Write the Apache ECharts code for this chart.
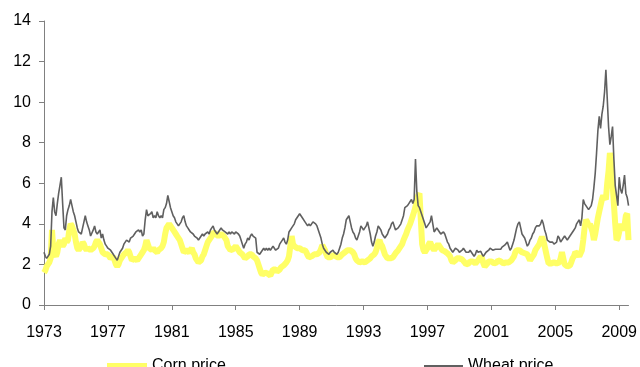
<!DOCTYPE html>
<html><head><meta charset="utf-8">
<script src="https://cdn.jsdelivr.net/npm/echarts@6/dist/echarts.min.js"></script>
<style>html,body{margin:0;padding:0;background:#fff}#c{width:640px;height:367px}</style>
</head><body><div id="c"></div>
<script>
// Monthly series, Jan 1973 .. Aug 2009 (one row per year)
const firstYear = 1973;
const lastYear = 2009;
const lastMonth = 8;
const tickYears = ['1973','1977','1981','1985','1989','1993','1997','2001','2005','2009'];
const yTicks = [0, 2, 4, 6, 8, 10, 12, 14];
const seriesNames = ['Corn price', 'Wheat price'];

const cornPrice = [
 1.6,1.7,1.9,2.0,2.1,2.3,3.7,2.7,2.5,2.4,2.6,3.0, // 1973
 3.2,3.0,2.9,3.0,3.3,3.1,3.2,3.7,4.0,3.9,3.7,3.5, // 1974
 3.1,2.8,2.7,2.8,2.9,3.1,3.0,2.8,2.7,2.8,2.8,2.7, // 1975
 2.7,2.8,2.9,3.1,3.2,3.1,3.0,2.8,2.6,2.55,2.5,2.55, // 1976
 2.5,2.4,2.3,2.35,2.4,2.2,2.0,1.9,2.0,2.2,2.3,2.4, // 1977
 2.5,2.5,2.6,2.7,2.6,2.4,2.2,2.2,2.3,2.3,2.2,2.3, // 1978
 2.4,2.5,2.6,2.7,2.9,3.2,3.0,2.8,2.8,2.7,2.8,2.7, // 1979
 2.7,2.6,2.7,2.7,2.8,2.9,3.1,3.5,3.8,3.9,4.0,3.9, // 1980
 3.8,3.7,3.6,3.5,3.4,3.3,3.2,3.0,2.8,2.6,2.6,2.7, // 1981
 2.7,2.6,2.7,2.8,2.6,2.5,2.3,2.2,2.1,2.05,2.2,2.4, // 1982
 2.5,2.7,2.9,3.1,3.2,3.3,3.4,3.6,3.6,3.5,3.5,3.4, // 1983
 3.4,3.5,3.5,3.4,3.3,3.2,2.9,2.8,2.7,2.7,2.75,2.8, // 1984
 2.9,2.8,2.7,2.6,2.6,2.5,2.4,2.3,2.3,2.4,2.5,2.5, // 1985
 2.5,2.4,2.4,2.3,2.2,2.0,1.8,1.6,1.5,1.55,1.6,1.65, // 1986
 1.55,1.5,1.45,1.6,1.75,1.8,1.75,1.65,1.65,1.75,1.85,1.9, // 1987
 1.95,2.0,2.1,2.2,2.4,2.9,3.4,3.0,2.9,2.85,2.8,2.8, // 1988
 2.8,2.75,2.7,2.7,2.7,2.6,2.45,2.35,2.4,2.4,2.45,2.5, // 1989
 2.5,2.5,2.55,2.6,2.75,2.95,2.9,2.7,2.5,2.35,2.3,2.35, // 1990
 2.4,2.45,2.5,2.45,2.35,2.3,2.35,2.4,2.5,2.55,2.6,2.65, // 1991
 2.7,2.7,2.7,2.65,2.6,2.5,2.3,2.2,2.15,2.1,2.1,2.15, // 1992
 2.1,2.1,2.15,2.2,2.2,2.3,2.4,2.45,2.5,2.6,2.8,3.1, // 1993
 3.2,3.0,2.9,2.7,2.5,2.4,2.3,2.25,2.3,2.3,2.35,2.45, // 1994
 2.55,2.6,2.7,2.8,2.9,3.0,3.2,3.35,3.5,3.7,3.85,4.0, // 1995
 4.2,4.4,4.6,4.85,5.1,5.4,5.5,4.2,3.0,2.7,2.6,2.6, // 1996
 2.8,3.0,3.1,3.1,2.8,2.7,2.8,2.9,3.0,2.9,2.8,2.7, // 1997
 2.7,2.65,2.6,2.55,2.5,2.4,2.2,2.1,2.15,2.2,2.3,2.3, // 1998
 2.3,2.3,2.25,2.2,2.1,2.0,1.95,2.05,2.15,2.2,2.15,2.1, // 1999
 2.05,2.1,2.2,2.3,2.4,2.3,2.05,1.9,1.95,2.05,2.15,2.2, // 2000
 2.15,2.1,2.05,2.05,2.1,2.2,2.2,2.15,2.1,2.05,2.1,2.1, // 2001
 2.05,2.1,2.15,2.2,2.3,2.4,2.6,2.7,2.75,2.7,2.65,2.6, // 2002
 2.6,2.55,2.5,2.5,2.35,2.2,2.3,2.4,2.5,2.7,2.8,2.9, // 2003
 3.0,3.2,3.35,3.2,2.9,2.6,2.3,2.05,2.0,2.05,2.1,2.1, // 2004
 2.1,2.05,2.05,2.1,2.3,2.6,2.3,2.0,1.95,1.9,1.9,1.95, // 2005
 2.1,2.3,2.4,2.6,2.55,2.5,2.4,2.45,2.7,3.2,3.8,4.2, // 2006
 4.1,3.9,4.0,4.0,3.6,3.2,3.5,3.9,4.3,4.6,4.9,5.2, // 2007
 5.4,5.3,5.2,6.0,6.6,7.5,7.0,6.0,5.0,4.0,3.2,3.3, // 2008
 3.6,4.0,3.8,3.7,3.9,4.4,4.5,3.2 // 2009
];

const wheatPrice = [
 2.6,2.4,2.3,2.3,2.5,2.9,4.6,5.3,4.6,4.4,5.0,5.5, // 1973
 5.9,6.3,5.0,3.8,3.7,4.4,4.7,4.9,5.2,4.9,4.6,4.4, // 1974
 4.1,3.8,3.6,3.6,3.5,3.8,4.1,4.4,4.1,3.9,3.7,3.4, // 1975
 3.4,3.7,3.9,3.6,3.5,3.6,3.7,3.3,3.5,3.2,3.0,2.9, // 1976
 2.8,2.8,2.7,2.6,2.5,2.4,2.3,2.2,2.4,2.6,2.7,2.8, // 1977
 3.0,3.0,3.2,3.2,3.1,3.3,3.3,3.4,3.5,3.6,3.6,3.7, // 1978
 3.6,3.7,3.4,3.5,4.2,4.7,4.4,4.4,4.5,4.6,4.3,4.4, // 1979
 4.3,4.6,4.4,4.3,4.4,4.3,4.7,4.8,5.0,5.4,5.1,4.8, // 1980
 4.6,4.4,4.3,4.1,4.0,3.9,4.0,4.1,4.3,4.4,4.1,3.9, // 1981
 3.8,3.7,3.6,3.6,3.5,3.4,3.4,3.3,3.2,3.3,3.4,3.5, // 1982
 3.4,3.5,3.5,3.6,3.5,3.7,3.8,3.9,3.7,3.6,3.5,3.6, // 1983
 3.7,3.8,3.7,3.7,3.6,3.6,3.5,3.6,3.5,3.6,3.6,3.5, // 1984
 3.6,3.6,3.5,3.4,3.2,3.0,2.8,3.0,3.1,3.3,3.2,3.4, // 1985
 3.5,3.4,3.4,3.3,2.6,2.6,2.5,2.6,2.7,2.8,2.7,2.8, // 1986
 2.7,2.8,2.7,2.8,2.9,2.8,2.7,2.7,2.8,3.0,3.1,3.2, // 1987
 3.3,3.1,3.0,3.2,3.6,3.7,3.8,3.9,4.0,4.2,4.3,4.4, // 1988
 4.5,4.4,4.3,4.3,4.1,4.0,3.9,4.0,3.9,4.0,4.1,4.1, // 1989
 4.0,3.9,3.7,3.5,3.3,3.0,2.8,2.7,2.6,2.6,2.5,2.6, // 1990
 2.6,2.7,2.6,2.6,2.5,2.6,2.8,3.0,3.3,3.5,3.8,4.2, // 1991
 4.3,4.4,4.1,3.8,3.6,3.5,3.3,3.2,3.4,3.6,3.9,3.8, // 1992
 3.7,3.8,3.9,4.1,3.8,3.5,3.1,2.9,3.1,3.4,3.6,3.9, // 1993
 3.9,3.7,3.5,3.4,3.3,3.3,3.5,3.7,3.8,4.0,4.1,3.9, // 1994
 3.7,3.7,3.8,3.9,4.0,4.2,4.4,4.8,4.8,4.9,5.0,5.1, // 1995
 5.2,5.0,5.2,7.2,5.6,4.9,4.8,4.6,4.4,4.2,4.0,3.8, // 1996
 3.9,3.9,4.1,4.4,4.0,3.6,3.7,3.8,3.7,3.6,3.5,3.5, // 1997
 3.6,3.5,3.3,3.1,3.0,2.8,2.7,2.6,2.6,2.8,2.8,2.7, // 1998
 2.6,2.6,2.7,2.8,2.7,2.6,2.55,2.6,2.7,2.6,2.5,2.4, // 1999
 2.5,2.7,2.6,2.6,2.65,2.5,2.4,2.5,2.6,2.6,2.7,2.8, // 2000
 2.75,2.7,2.7,2.75,2.8,2.75,2.7,2.75,2.85,2.9,2.95,3.0, // 2001
 3.1,2.9,2.7,2.8,3.0,3.2,3.5,3.8,4.0,4.1,3.8,3.5, // 2002
 3.4,3.3,3.1,2.9,3.0,3.2,3.3,3.5,3.6,3.8,3.9,3.9, // 2003
 3.9,4.0,4.2,4.0,3.7,3.5,3.2,3.2,3.1,3.1,3.1,3.0, // 2004
 2.95,3.1,3.4,3.3,3.1,3.2,3.3,3.4,3.3,3.2,3.3,3.4, // 2005
 3.5,3.6,3.7,3.8,4.0,4.0,4.2,3.9,4.3,5.2,5.0,4.9, // 2006
 4.8,4.7,4.8,4.9,5.2,5.8,6.5,7.5,8.6,9.3,8.7,9.4, // 2007
 9.8,10.5,11.6,10.2,8.8,7.9,8.3,8.8,7.2,5.9,5.4,4.9, // 2008
 6.3,5.7,5.5,5.9,6.4,5.5,5.3,4.9 // 2009
];

const months = [];
for (let y = firstYear; y <= lastYear; y++) {
  for (let m = 1; m <= 12; m++) {
    if (y === lastYear && m > lastMonth) break;
    months.push(y + '-' + String(m).padStart(2, '0'));
  }
}
const isTick = (idx, val) => val.endsWith('-01') && tickYears.includes(val.slice(0, 4));

const font = "'Liberation Sans', Arial, sans-serif";
const chart = echarts.init(document.getElementById('c'), null, {renderer: 'canvas'});
chart.setOption({
  animation: false,
  backgroundColor: '#ffffff',
  grid: {left: 44, right: 10.7, top: 21, bottom: 62, containLabel: false},
  xAxis: {
    type: 'category',
    data: months,
    boundaryGap: false,
    axisLine: {lineStyle: {color: '#808080', width: 1}},
    axisTick: {interval: isTick, length: 5, lineStyle: {color: '#808080'}},
    axisLabel: {interval: isTick, formatter: v => v.slice(0, 4), color: '#000', fontSize: 16, fontFamily: font, margin: 20},
    splitLine: {show: false}
  },
  yAxis: {
    type: 'value',
    min: yTicks[0], max: yTicks[yTicks.length - 1], interval: 2,
    axisLine: {show: true, lineStyle: {color: '#808080', width: 1}},
    axisTick: {show: true, length: 5, lineStyle: {color: '#808080'}},
    axisLabel: {color: '#000', fontSize: 16, fontFamily: font, margin: 13},
    splitLine: {show: false}
  },
  legend: [
    {data: [seriesNames[0]], left: 102, top: 353, icon: 'rect', itemWidth: 40, itemHeight: 6, itemGap: 0,
     textStyle: {fontSize: 16, fontFamily: font, color: '#000'}},
    {data: [seriesNames[1]], left: 419, top: 353, icon: 'rect', itemWidth: 39, itemHeight: 2, itemGap: 0,
     textStyle: {fontSize: 16, fontFamily: font, color: '#000'}}
  ],
  series: [
    {name: seriesNames[0], type: 'line', data: cornPrice, showSymbol: false, symbol: 'none',
     lineStyle: {color: '#ffff66', width: 6}, itemStyle: {color: '#ffff66'}, z: 2},
    {name: seriesNames[1], type: 'line', data: wheatPrice, showSymbol: false, symbol: 'none',
     lineStyle: {color: '#606060', width: 1.6}, itemStyle: {color: '#606060'}, z: 3}
  ]
});
</script></body></html>
